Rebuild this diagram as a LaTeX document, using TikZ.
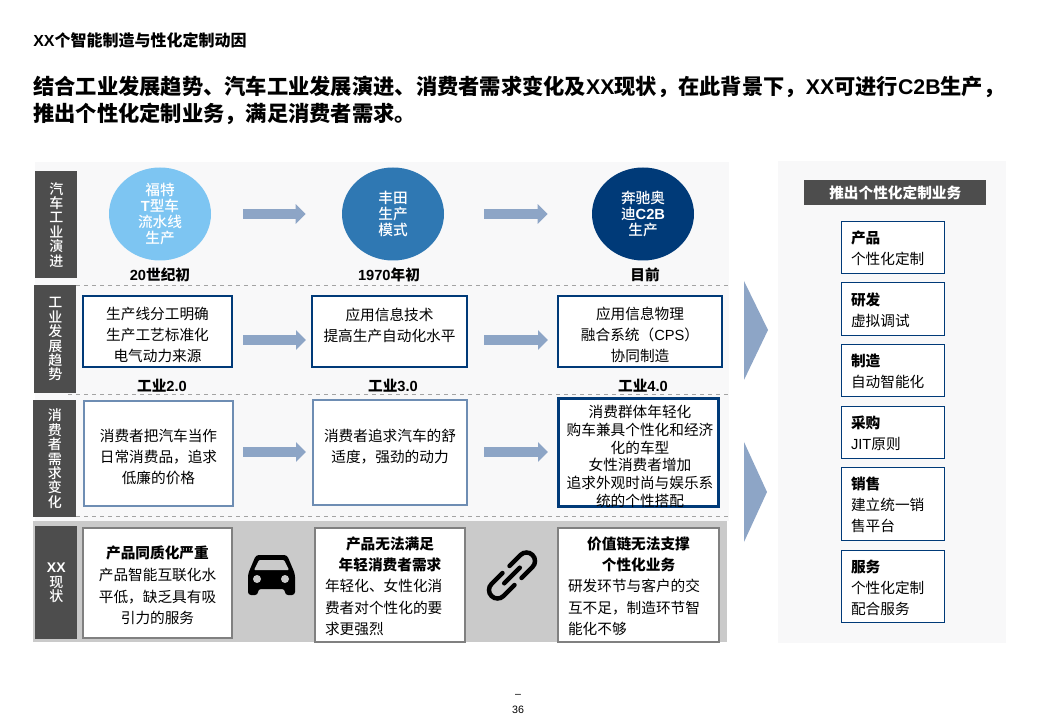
\documentclass[tikz,border=0pt]{standalone}
\usepackage{fontspec}
\setmainfont{Noto Sans CJK SC}
\newfontfamily\latinfont{Liberation Sans}
\newfontfamily\mediumfont{Noto Sans CJK SC Medium}
\newcommand{\la}[1]{{\latinfont #1}}
\newcommand{\lab}[1]{{\latinfont\bfseries #1}}
\newcommand{\topfix}[1]{\rule{0pt}{#1}}
\usetikzlibrary{shapes.geometric, arrows.meta, calc}
\definecolor{colorOscuro}{HTML}{4D4D4D}
\definecolor{fondoClaro}{HTML}{F8F8F9}
\definecolor{fondoGris}{HTML}{CACACA}
\definecolor{azulMarino}{HTML}{003A78}
\definecolor{azulGris}{HTML}{6E8DB3}
\definecolor{flecha}{HTML}{8DA5C6}
\definecolor{cieloClaro}{HTML}{7DC5F2}
\definecolor{azulMedio}{HTML}{2F78B3}
\definecolor{grisMarco}{HTML}{808080}
\definecolor{grisRaya}{HTML}{A3A3A3}
\def\px{.75pt}

\begin{document}
\begin{tikzpicture}[x=.75pt, y=-.75pt, font=\fontsize{11}{15.75}\selectfont,
        panel/.style={fill=fondoClaro, anchor=north west, inner sep=0pt},
        side/.style={fill=colorOscuro, text=white, anchor=north west, inner sep=0pt, align=center,
            font=\fontsize{10.5}{10.8}\selectfont\mediumfont},
        era/.style={ellipse, inner sep=0pt, minimum width=102*\px, minimum height=93*\px, text=white,
            align=center, font=\fontsize{11}{12}\selectfont\mediumfont},
        tag/.style={font=\fontsize{11}{13}\selectfont\bfseries, inner sep=0pt},
        navybox/.style={draw=azulMarino, line width=2*\px, fill=white, anchor=north west, inner sep=0pt, align=center},
        softbox/.style={draw=azulGris, line width=2*\px, fill=white, anchor=north west, inner sep=0pt, align=center},
        greybox/.style={draw=grisMarco, line width=2*\px, fill=white, anchor=north west, inner sep=0pt, align=center,
            font=\fontsize{11}{16.2}\selectfont},
        mixtext/.style={inner sep=0pt, align=left, font=\fontsize{11}{16}\selectfont},
        itembox/.style={draw=azulMarino, line width=1*\px, fill=white, anchor=north west, align=left,
            inner ysep=0pt, inner xsep=9.5*\px, text width=84*\px, execute at begin node=\topfix{11.2pt}},
        flow/.style={flecha, line width=10*\px, -{Triangle[length=10*\px, width=19*\px]}},
        rowline/.style={grisRaya, dashed, line width=.8*\px}]
    \useasboundingbox (0,0) rectangle (1040,720);

    % titulos
    \node[anchor=west, inner sep=0pt, font=\fontsize{12}{14}\selectfont\bfseries] (kicker) at (33,40)
        {\la{XX}个智能制造与性化定制动因};
    \node[anchor=north west, inner sep=0pt, align=left, font=\fontsize{15.95}{20.25}\selectfont\bfseries] (headline) at (33,76)
        {结合工业发展趋势、汽车工业发展演进、消费者需求变化及\la{XX}现状，在此背景下，\la{XX}可进行\la{C2B}生产，\\
         推出个性化定制业务，满足消费者需求。};

    % fondos
    \node[panel, minimum width=694*\px, minimum height=359*\px] (bgleft) at (35,162) {};
    \node[panel, minimum width=228*\px, minimum height=482*\px] (bgright) at (778,161) {};
    \node[panel, fill=fondoGris, minimum width=694*\px, minimum height=121*\px] (band) at (33,521) {};

    \coordinate (lineA) at (729,285);
    \coordinate (lineB) at (729,394);
    \coordinate (lineC) at (729,516);
    \foreach \n in {lineA,lineB,lineC} \draw[rowline] (68,0 |- \n) -- (\n);

    % etiquetas laterales
    \node[side, minimum width=42*\px, minimum height=107*\px] (s1) at (35,171) {汽\\车\\工\\业\\演\\进};
    \node[side, minimum width=42*\px, minimum height=108*\px] (s2) at (34,285) {工\\业\\发\\展\\趋\\势};
    \node[side, minimum width=43*\px, minimum height=117*\px] (s3) at (33,400) {消\\费\\者\\需\\求\\变\\化};
    \node[side, minimum width=42*\px, minimum height=113*\px] (s4) at (35,526) {\lab{XX}\\现\\状};

    % fila 1
    \node[era, fill=cieloClaro] (c1) at (160,214) {福特\\\lab{T}型车\\流水线\\生产};
    \node[era, fill=azulMedio] (c2) at (393,214) {丰田\\生产\\模式};
    \node[era, fill=azulMarino] (c3) at (643,214) {奔驰奥\\迪\lab{C2B}\\生产};
    \node[tag] (t1) at (160,275) {\la{20}世纪初};
    \node[tag] (t2) at (389,275) {\la{1970}年初};
    \node[tag] (t3) at (645,275) {目前};
    \draw[flow, shorten <=32*\px, shorten >=36*\px] (c1) -- (c2);
    \draw[flow, shorten <=40*\px, shorten >=44*\px] (c2) -- (c3);

    % fila 2
    \node[navybox, minimum width=149*\px, minimum height=71*\px] (b1) at (82,295) {\topfix{15pt}生产线分工明确\\生产工艺标准化\\电气动力来源};
    \node[navybox, minimum width=155*\px, minimum height=71*\px] (b2) at (311,295) {\topfix{15pt}应用信息技术\\提高生产自动化水平\\\mbox{}};
    \node[navybox, minimum width=164*\px, minimum height=71*\px] (b3) at (557,295) {\topfix{15pt}应用信息物理\\融合系统（\la{CPS}）\\协同制造};
    \node[tag] (i1) at (162,386) {工业\la{2.0}};
    \node[tag] (i2) at (393,386) {工业\la{3.0}};
    \node[tag] (i3) at (643,386) {工业\la{4.0}};
    \coordinate (rowB) at (0,340);
    \draw[flow, shorten <=10*\px, shorten >=5*\px] (b1.east |- rowB) -- (b2.west |- rowB);
    \draw[flow, shorten <=16*\px, shorten >=9*\px] (b2.east |- rowB) -- (b3.west |- rowB);

    % fila 3
    \node[softbox, minimum width=149*\px, minimum height=105*\px] (d1) at (83,400) {\topfix{14.25pt}消费者把汽车当作\\日常消费品，追求\\低廉的价格};
    \node[softbox, minimum width=154*\px, minimum height=105*\px] (d2) at (312,399.5) {\topfix{14.25pt}消费者追求汽车的舒\\适度，强劲的动力\\\mbox{}};
    \node[navybox, line width=3*\px, minimum width=160*\px, minimum height=108*\px] (d3) at (557,397) {};
    \node[inner sep=0pt, align=center, font=\fontsize{11}{13.25}\selectfont] (d3text) at (640,456.5)
        {消费群体年轻化\\购车兼具个性化和经济\\化的车型\\女性消费者增加\\追求外观时尚与娱乐系\\统的个性搭配};
    \coordinate (rowC) at (0,452);
    \draw[flow, shorten <=9*\px, shorten >=6*\px] (d1.east |- rowC) -- (d2.west |- rowC);
    \draw[flow, shorten <=16*\px, shorten >=9*\px] (d2.east |- rowC) -- (d3.west |- rowC);

    % fila 4
    \node[greybox, minimum width=149*\px, minimum height=110*\px] (e1) at (82,527)
        {\topfix{13.5pt}\textbf{产品同质化严重}\\产品智能互联化水\\平低，缺乏具有吸\\引力的服务};
    \node[greybox, minimum width=150*\px, minimum height=114*\px] (e2) at (314,527) {};
    \node[mixtext, text width=130*\px] (e2text) at (390,586)
        {{\centering\bfseries 产品无法满足\\年轻消费者需求\par}年轻化、女性化消\\费者对个性化的要\\求更强烈};
    \node[greybox, minimum width=161*\px, minimum height=114*\px] (e3) at (557,527) {};
    \node[mixtext, text width=141*\px] (e3text) at (638.5,586)
        {{\centering\bfseries 价值链无法支撑\\个性化业务\par}研发环节与客户的交\\互不足，制造环节智\\能化不够};

    % coche
    \fill[rounded corners=3*\px] (248,574) -- (256,555) -- (287,555) -- (295,574) -- (295,595) -- (285,595) -- (285,589)
        -- (258,589) -- (258,595) -- (248,595) -- cycle;
    \fill[fondoGris, rounded corners=1*\px] (254,570) -- (259,560) -- (284,560) -- (289,570) -- cycle;
    \fill[fondoGris] (257,579) circle[radius=4] (285,579) circle[radius=4];

    % eslabones
    \begin{scope}[shift={(512,575.5)}, rotate=45]
        \draw[line width=4.5*\px, line cap=round, rounded corners=8.5*\px]
            (-5,-8.5) -- (-29,-8.5) -- (-29,8.5) -- (-5,8.5)
            (5,-8.5) -- (29,-8.5) -- (29,8.5) -- (5,8.5);
        \draw[line width=4.5*\px, line cap=round] (-11,0) -- (11,0);
    \end{scope}

    % flechas grandes
    \fill[flecha] (744,281) -- (768,330) -- (744,380) -- cycle;
    \fill[flecha] (744,442) -- (767,492) -- (744,542) -- cycle;

    % panel derecho
    \node[side, minimum width=182*\px, minimum height=25*\px, font=\fontsize{11}{13}\selectfont\bfseries] (head) at (804,180)
        {推出个性化定制业务};
    \node[itembox, minimum height=52*\px] (p1) at (841,221) {\textbf{产品}\\个性化定制};
    \node[itembox, minimum height=53*\px] (p2) at (841,282) {\textbf{研发}\\虚拟调试};
    \node[itembox, minimum height=52*\px] (p3) at (841,344) {\textbf{制造}\\自动智能化};
    \node[itembox, minimum height=52*\px] (p4) at (841,406) {\textbf{采购}\\\la{JIT}原则};
    \node[itembox, minimum height=73*\px] (p5) at (841,467) {\textbf{销售}\\建立统一销\\售平台};
    \node[itembox, minimum height=72*\px] (p6) at (841,550) {\textbf{服务}\\个性化定制\\配合服务};

    % pagina
    \node[inner sep=0pt, font=\fontsize{8}{9}\selectfont] (dash) at (518,696) {\la{–}};
    \node[inner sep=0pt, font=\fontsize{8}{9}\selectfont] (page) at (518,710) {\la{36}};
\end{tikzpicture}
\end{document}
